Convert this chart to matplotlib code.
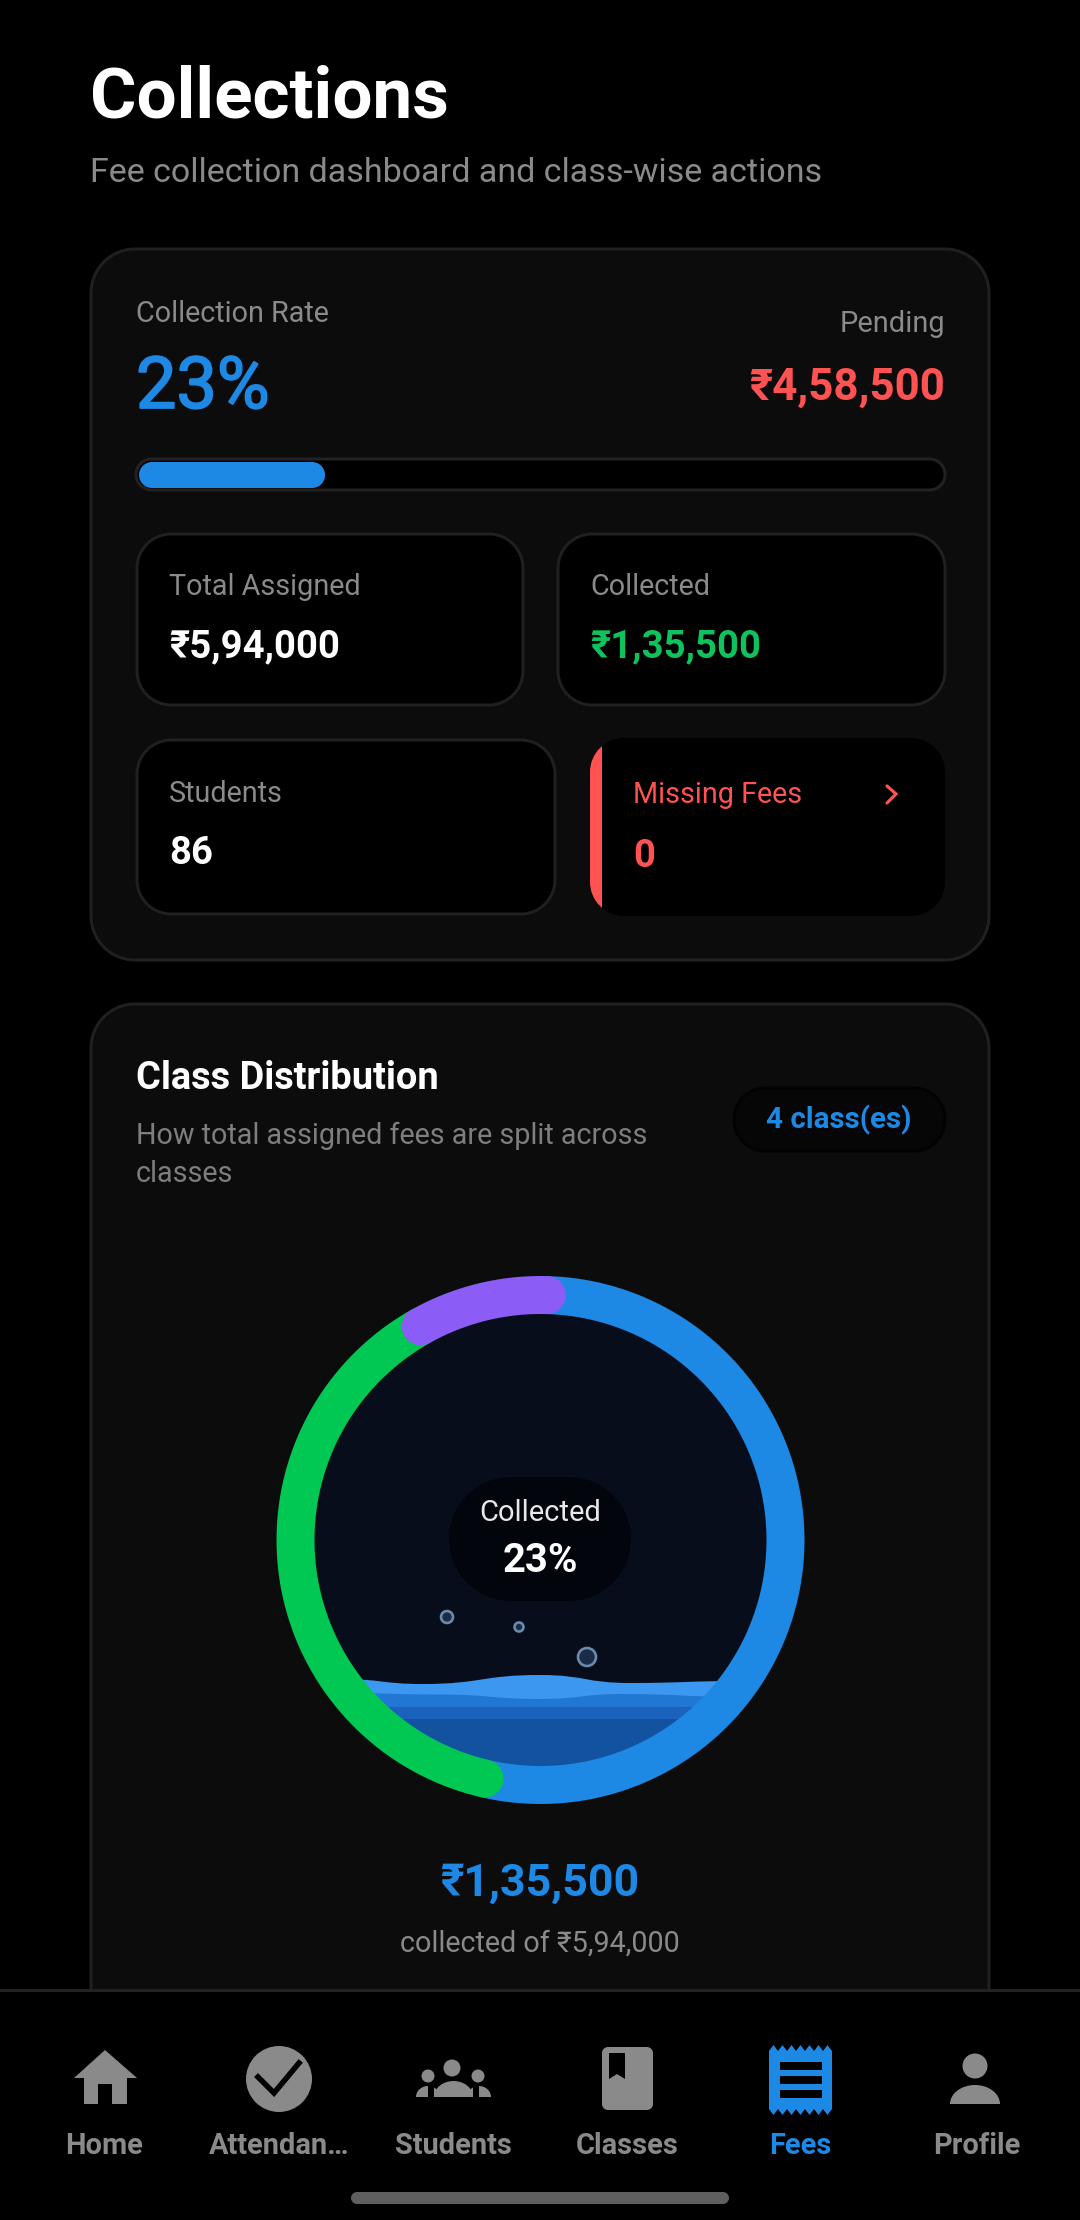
import numpy as np
import matplotlib
matplotlib.use("Agg")
import matplotlib.pyplot as plt
import matplotlib.patheffects as pe
from matplotlib.patches import Circle, Ellipse, Polygon, PathPatch, Rectangle
from matplotlib.path import Path

# ---------- data ----------
collection_rate = 23
pending = "₹4,58,500"
total_assigned = "₹5,94,000"
collected = "₹1,35,500"
students = "86"
missing_fees = "0"
class_count = "4 class(es)"
class_share = [53.25, 38.2, 8.55]
class_colors = ["#1e88e5", "#00c853", "#8b5cf6"]
nav_labels = ["Home", "Attendan…", "Students", "Classes", "Fees", "Profile"]

plt.rcParams["font.family"] = ["Roboto", "DejaVu Sans"]
BLUE, RED, GREEN, GREY = "#1e88e5", "#ff5252", "#10c25c", "#8a8a8a"
NAV = "#8a8a8a"

fig = plt.figure(figsize=(10.8, 22.2), dpi=100, facecolor="black")
ax = fig.add_axes([0, 0, 1, 1])
ax.set_xlim(0, 1080)
ax.set_ylim(2220, 0)
ax.axis("off")
PT = 0.72


def box(x0, y0, x1, y1, r, fc, ec="none", lw=0, z=1):
    k = r * (1 - 0.5523)
    verts = [(x0 + r, y0), (x1 - r, y0), (x1 - k, y0), (x1, y0 + k), (x1, y0 + r),
             (x1, y1 - r), (x1, y1 - k), (x1 - k, y1), (x1 - r, y1),
             (x0 + r, y1), (x0 + k, y1), (x0, y1 - k), (x0, y1 - r),
             (x0, y0 + r), (x0, y0 + k), (x0 + k, y0), (x0 + r, y0), (x0 + r, y0)]
    L, C = Path.LINETO, Path.CURVE4
    codes = [Path.MOVETO, L, C, C, C, L, C, C, C, L, C, C, C, L, C, C, C, Path.CLOSEPOLY]
    p = PathPatch(Path(verts, codes), fc=fc, ec=ec, lw=lw * PT, zorder=z)
    ax.add_patch(p)
    return p


def txt(x, y, s, px, color, weight="normal", ha="left", va="baseline", z=10, **kw):
    return ax.text(x, y, s, fontsize=px * PT, color=color, fontweight=weight,
                   ha=ha, va=va, zorder=z, **kw)


def dome(x0, x1, ybase, ytop, color, z=12):
    cx, rx, h = (x0 + x1) / 2, (x1 - x0) / 2, ybase - ytop
    k = 0.5523
    verts = [(x0, ybase), (x0, ytop + h * (1 - k)), (cx - rx * k, ytop), (cx, ytop),
             (cx + rx * k, ytop), (x1, ytop + h * (1 - k)), (x1, ybase), (x0, ybase)]
    codes = [Path.MOVETO] + [Path.CURVE4] * 6 + [Path.CLOSEPOLY]
    ax.add_patch(PathPatch(Path(verts, codes), fc=color, ec="none", zorder=z))


def wave(points, bottom, color, clip, z):
    verts, codes = [points[0]], [Path.MOVETO]
    for (a, b), (c, d) in zip(points[:-1], points[1:]):
        m = (a + c) / 2
        verts += [(m, b), (m, d), (c, d)]
        codes += [Path.CURVE4] * 3
    verts += [(points[-1][0], bottom), (points[0][0], bottom), points[0]]
    codes += [Path.LINETO, Path.LINETO, Path.CLOSEPOLY]
    p = PathPatch(Path(verts, codes), fc=color, ec="none", zorder=z)
    ax.add_patch(p)
    p.set_clip_path(clip)


# ---------- header ----------
txt(90, 118, "Collections", 71, "white", "bold")
txt(90, 182, "Fee collection dashboard and class-wise actions", 34, GREY)

# ---------- summary card ----------
box(91, 249, 989, 960, 44, "#0c0c0c", "#202020", 3)
txt(136, 322, "Collection Rate", 28.8, GREY)
txt(945, 332, "Pending", 29, GREY, ha="right")
t = txt(136, 408, f"{collection_rate}%", 72, BLUE)
t.set_path_effects([pe.withStroke(linewidth=1.3, foreground=BLUE)])
txt(945, 400, pending, 44, RED, "bold", ha="right")

track_x0, track_x1 = 136, 945
box(track_x0, 459, track_x1, 490, 15.5, "black", "#222222", 3)
box(track_x0 + 3, 462, track_x0 + 3 + (track_x1 - track_x0) * collection_rate / 100, 488, 13, BLUE, z=2)

box(137, 534, 523, 705, 34, "black", "#202020", 3, z=2)
box(558, 534, 945, 705, 34, "black", "#202020", 3, z=2)
txt(169, 595, "Total Assigned", 28.8, GREY)
txt(590, 595, "Collected", 28.8, GREY)
txt(169, 657, total_assigned, 38.3, "white", "bold")
txt(590, 657, collected, 38.3, GREEN, "bold")

box(137, 740, 555, 914, 34, "black", "#202020", 3, z=2)
txt(169, 802, "Students", 28.8, GREY)
txt(169, 864, students, 38.3, "white", "bold")

missing = box(590, 738, 945, 916, 34, "black", z=2)
bar = Rectangle((590, 738), 12, 178, fc=RED, ec="none", zorder=3)
ax.add_patch(bar)
bar.set_clip_path(missing)
txt(633, 803, "Missing Fees", 28.8, RED)
txt(633, 867, missing_fees, 38.3, RED, "bold")
ax.plot([887, 896, 887], [786, 794, 803], color=RED, lw=3.2 * PT, zorder=10,
        solid_capstyle="round", solid_joinstyle="miter")

# ---------- distribution card ----------
box(91, 1004, 989, 2150, 44, "#0c0c0c", "#202020", 3)
txt(136, 1089, "Class Distribution", 38, "white", "bold")
txt(136, 1144, "How total assigned fees are split across", 28.8, "#7e7e7e")
txt(136, 1182, "classes", 28.8, "#7e7e7e")
box(734, 1088, 945, 1151, 31, "#060606", "#020202", 3, z=2)
txt(839, 1128, class_count, 29.5, BLUE, "bold", ha="center")

CX, CY, R_IN, R_MID, RING = 540.5, 1540, 227, 245, 38
disc = Circle((CX, CY), R_IN, fc="#070d1a", ec="none", zorder=2)
ax.add_patch(disc)
wave([(340, 1679), (423, 1684), (540, 1675), (630, 1683), (740, 1681)], 1800, "#3b97f0", disc, 3)
wave([(340, 1693), (440, 1694.5), (540, 1699), (623, 1694), (740, 1697)], 1800, "#2277d4", disc, 4)
wave([(300, 1707), (780, 1707)], 1800, "#1a62bb", disc, 5)
wave([(300, 1719), (780, 1719)], 1800, "#12529f", disc, 6)
for bx, by, br in [(447, 1617, 6), (519, 1627, 4.5), (587, 1657, 9)]:
    ax.add_patch(Circle((bx, by), br, fc="#1a2c47", ec="#6a8bad", lw=2.6 * PT, zorder=7))

start = 1.5
for share, color, z in zip(class_share, class_colors, [8, 9, 10]):
    th = np.radians(np.linspace(start, start + share * 3.6, 240))
    ax.plot(CX + R_MID * np.sin(th), CY - R_MID * np.cos(th), color=color,
            lw=RING * PT, solid_capstyle="round", zorder=z)
    start += share * 3.6

box(449, 1477, 631, 1601, 62, "#02050c", z=11)
txt(540, 1521, "Collected", 29, "#e8e8e8", ha="center", z=12)
txt(540, 1572, f"{collection_rate}%", 40, "white", "bold", ha="center", z=12)

txt(540, 1896, collected, 44.6, BLUE, "bold", ha="center")
txt(540, 1952, "collected of " + total_assigned, 28.8, GREY, ha="center")

# ---------- bottom navigation ----------
ax.add_patch(Rectangle((0, 1990), 1080, 230, fc="black", ec="none", zorder=11))
ax.plot([0, 1080], [1990, 1990], color="#222222", lw=3 * PT, zorder=12)
nav_x = [104.5, 279, 453, 627.5, 800, 977]
for x, label in zip(nav_x, nav_labels):
    txt(x, 2154, label, 29, BLUE if label == "Fees" else NAV, "bold", ha="center", z=13)

# home
ax.add_patch(Polygon([(105, 2050), (137, 2078), (127, 2078), (127, 2104), (112, 2104), (112, 2084),
                      (98, 2084), (98, 2104), (84, 2104), (84, 2078), (74, 2078)], fc=NAV, ec="none", zorder=12))
# attendance
ax.add_patch(Circle((279, 2079), 33, fc=NAV, ec="none", zorder=12))
ax.plot([258, 274, 299], [2077, 2093, 2063], color="black", lw=5.5 * PT, zorder=13, solid_joinstyle="miter")
# students
ax.add_patch(Ellipse((452, 2068), 17, 17, fc=NAV, zorder=12))
ax.add_patch(Ellipse((428, 2076), 13, 13, fc=NAV, zorder=12))
ax.add_patch(Ellipse((478, 2076), 13, 13, fc=NAV, zorder=12))
dome(434, 473, 2097, 2081, NAV)
dome(416, 440, 2097, 2086, NAV)
dome(467, 491, 2097, 2086, NAV)
ax.add_patch(Rectangle((428, 2086), 6, 11, fc="black", ec="none", zorder=12))
ax.add_patch(Rectangle((473, 2086), 6, 11, fc="black", ec="none", zorder=12))
ax.add_patch(Rectangle((434, 2094), 39, 3, fc=NAV, ec="none", zorder=12))
# classes
box(602, 2047, 653, 2110, 6, NAV, z=12)
ax.add_patch(Polygon([(609, 2053), (625, 2053), (625, 2079), (617, 2074), (609, 2079)], fc="black", ec="none", zorder=13))
# fees
n_teeth = 7
tx = np.linspace(769, 832, 2 * n_teeth + 1)
top = [(x, 2051 if i % 2 == 0 else 2045) for i, x in enumerate(tx)]
bottom = [(x, 2109 if i % 2 == 0 else 2115) for i, x in enumerate(tx)][::-1]
ax.add_patch(Polygon(top + bottom, fc=BLUE, ec="none", zorder=12))
for sy in (2062, 2076, 2090):
    ax.add_patch(Rectangle((780, sy), 42, 8, fc="black", ec="none", zorder=13))
# profile
ax.add_patch(Ellipse((975, 2066), 25, 25, fc=NAV, zorder=12))
dome(950, 1000, 2104, 2085, NAV)

box(351, 2192, 729, 2204, 6, "#5f5f5f", z=12)

fig.savefig("out.png", dpi=100, facecolor="black")
